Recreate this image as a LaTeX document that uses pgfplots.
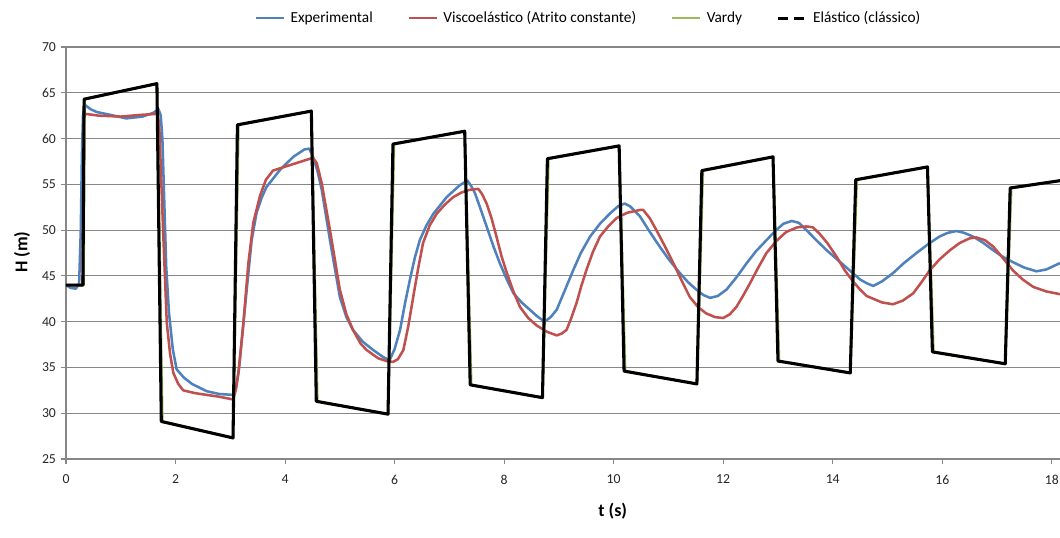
\documentclass[border=0pt]{standalone}
\usepackage{pgfplots}
\pgfplotsset{compat=1.18}
\usepackage{fontspec}
\setmainfont{Carlito}
\definecolor{cblue}{HTML}{4F81BD}
\definecolor{cred}{HTML}{C0504D}
\definecolor{cgreen}{HTML}{9BBB59}
\definecolor{cgrid}{HTML}{878787}
\begin{document}
\begin{tikzpicture}
\useasboundingbox (0pt,0pt) rectangle (795pt,403.5pt);
\begin{axis}[
  at={(49.5pt,59.25pt)}, anchor=south west,
  width=745.5pt, height=309pt, scale only axis,
  xmin=0, xmax=18.15, ymin=25, ymax=70,
  xtick={0,2,...,18}, ytick={25,30,...,70},
  axis lines=left, axis line style={-, cgrid, line width=0.8pt},
  ymajorgrids, grid style={cgrid, line width=0.8pt},
  tick align=outside, major tick length=4pt,
  tick style={cgrid, line width=0.8pt},
  /pgf/number format/assume math mode=true,
  ticklabel style={font=\fontsize{10.3}{12}\selectfont, text=black!85},
  xticklabel style={yshift=-4.5pt},
  xlabel={\textbf{t (s)}}, ylabel={\textbf{H (m)}},
  label style={font=\fontsize{13.5}{15}\selectfont},
  xlabel style={at={(axis description cs:0.550,-0.126)}, anchor=center},
  ylabel style={at={(axis description cs:-0.0443,0.502)}, anchor=center},
  legend columns=4,
  legend style={at={(axis description cs:0.526,1.07)}, anchor=center, draw=none, fill=none,
    font=\fontsize{11.5}{13}\selectfont, /tikz/every even column/.append style={column sep=24pt},
    /tikz/every odd column/.append style={column sep=2pt}},
  legend image code/.code={\draw[#1] (0pt,0pt) -- (21pt,0pt);},
  line join=round,
]
\addplot[cblue, line width=1.9pt] coordinates {
(0,44.0)(0.08,43.7)(0.18,43.6)(0.24,44.2)(0.27,50)(0.29,58)(0.31,62.5)(0.34,63.7)(0.45,63.2)(0.56,62.9)(0.8,62.6)(1.1,62.2)(1.4,62.4)(1.59,62.8)(1.69,63.2)(1.73,62.5)(1.76,60)(1.79,54)(1.83,46)(1.88,41)(1.95,37)(2.02,34.8)(2.15,33.9)(2.3,33.2)(2.57,32.4)(2.8,32.1)(3.05,32.0)(3.1,32.6)(3.16,35)(3.21,38)(3.30,43.5)(3.39,48.9)(3.48,51.9)(3.57,53.5)(3.66,54.7)(3.91,56.6)(4.15,58.0)(4.35,58.8)(4.44,58.9)(4.51,58.0)(4.59,56.5)(4.67,54.4)(4.82,48.9)(5.0,42.7)(5.12,40.5)(5.24,39.1)(5.42,37.8)(5.61,36.9)(5.80,36.1)(5.91,35.8)(6.0,37)(6.10,39.1)(6.19,42)(6.28,44.6)(6.37,47)(6.46,48.9)(6.58,50.5)(6.71,51.8)(6.95,53.6)(7.19,54.9)(7.33,55.4)(7.40,54.8)(7.47,54.0)(7.57,52.3)(7.68,50.4)(7.80,48.3)(7.92,46.4)(8.05,44.6)(8.17,43.1)(8.32,42.1)(8.47,41.3)(8.6,40.6)(8.74,40.0)(8.85,40.5)(8.96,41.3)(9.1,43.3)(9.26,45.6)(9.4,47.5)(9.57,49.3)(9.75,50.7)(9.93,51.8)(10.08,52.6)(10.2,52.9)(10.3,52.6)(10.48,51.5)(10.65,49.9)(10.84,48.2)(11.02,46.7)(11.21,45.3)(11.36,44.3)(11.51,43.5)(11.64,42.9)(11.76,42.6)(11.9,42.8)(12.06,43.5)(12.25,44.9)(12.43,46.4)(12.6,47.7)(12.79,48.9)(12.95,49.9)(13.1,50.7)(13.25,51.0)(13.38,50.8)(13.52,50.0)(13.7,48.9)(13.89,47.8)(14.1,46.7)(14.31,45.6)(14.5,44.6)(14.62,44.2)(14.74,43.9)(14.9,44.4)(15.10,45.3)(15.3,46.4)(15.53,47.5)(15.75,48.5)(15.95,49.3)(16.1,49.7)(16.26,49.9)(16.4,49.7)(16.56,49.3)(16.75,48.6)(16.93,47.8)(17.1,47.1)(17.29,46.5)(17.5,45.9)(17.72,45.5)(17.9,45.7)(18.15,46.4)
};
\addlegendentry{Experimental}
\addplot[cred, line width=1.9pt] coordinates {
(0,44.0)(0.30,44.0)(0.31,50)(0.32,58)(0.33,62.2)(0.35,62.7)(0.6,62.5)(1.0,62.4)(1.4,62.6)(1.68,62.7)(1.71,60.5)(1.73,56.9)(1.78,48.9)(1.84,39.9)(1.90,36.5)(1.96,34.4)(2.05,33.2)(2.14,32.5)(2.35,32.2)(2.57,32.0)(2.8,31.8)(3.05,31.5)(3.10,32.5)(3.15,34.4)(3.24,39.9)(3.33,46.4)(3.42,50.8)(3.54,53.7)(3.65,55.5)(3.78,56.5)(4.09,57.1)(4.3,57.5)(4.51,57.9)(4.58,57.3)(4.67,55.1)(4.82,50.0)(5.0,43.5)(5.12,40.8)(5.24,39.1)(5.38,37.6)(5.49,36.9)(5.7,36.0)(5.85,35.7)(5.97,35.6)(6.06,35.9)(6.16,36.9)(6.25,39.5)(6.34,42.7)(6.43,45.8)(6.52,48.6)(6.64,50.5)(6.77,51.8)(6.92,52.8)(7.07,53.6)(7.22,54.1)(7.37,54.4)(7.53,54.5)(7.60,53.9)(7.68,52.9)(7.77,51.3)(7.86,49.3)(7.95,47.2)(8.05,45.3)(8.17,43.3)(8.29,41.6)(8.44,40.4)(8.59,39.6)(8.78,38.9)(8.96,38.5)(9.05,38.7)(9.14,39.1)(9.22,40.3)(9.32,42.0)(9.41,43.9)(9.50,45.6)(9.62,47.6)(9.75,49.3)(9.9,50.4)(10.05,51.3)(10.25,51.9)(10.48,52.2)(10.54,52.2)(10.66,51.3)(10.78,50.0)(10.93,48.3)(11.09,46.4)(11.24,44.5)(11.39,42.7)(11.54,41.6)(11.69,40.9)(11.85,40.5)(12.0,40.4)(12.12,40.8)(12.24,41.6)(12.36,42.8)(12.49,44.2)(12.64,45.9)(12.79,47.5)(12.97,48.8)(13.15,49.8)(13.35,50.3)(13.52,50.4)(13.64,50.3)(13.76,49.6)(13.9,48.6)(14.07,47.1)(14.22,45.6)(14.37,44.4)(14.5,43.5)(14.62,42.8)(14.74,42.5)(14.9,42.1)(15.10,41.9)(15.28,42.3)(15.47,43.1)(15.62,44.3)(15.77,45.6)(15.95,46.8)(16.14,47.8)(16.32,48.6)(16.50,49.1)(16.62,49.2)(16.78,48.9)(16.93,48.2)(17.1,47.0)(17.29,45.6)(17.47,44.6)(17.66,43.8)(17.9,43.3)(18.15,43.0)
};
\addlegendentry{Viscoelástico (Atrito constante)}
\addplot[cgreen, line width=1.9pt] coordinates {
(0,44.0)(0.32,44.0)(0.34,64.3)(1.66,66.0)(1.76,29.1)(3.05,27.3)(3.15,61.5)(4.48,63.0)(4.59,31.3)(5.88,29.9)(5.99,59.4)(7.28,60.8)(7.40,33.1)(8.70,31.7)(8.81,57.8)(10.10,59.2)(10.21,34.6)(11.52,33.2)(11.63,56.5)(12.91,58.0)(13.02,35.7)(14.32,34.4)(14.44,55.5)(15.73,56.9)(15.84,36.7)(17.15,35.4)(17.26,54.6)(18.15,55.4)
};
\addlegendentry{Vardy}
\addplot[black, line width=2.3pt, legend image code/.code={\draw[black, line width=2.3pt, dash pattern=on 7pt off 5pt] (0pt,0pt) -- (21pt,0pt);}] coordinates {
(0,44.0)(0.31,44.0)(0.33,64.3)(1.66,66.0)(1.74,29.1)(3.05,27.3)(3.13,61.5)(4.48,63.0)(4.57,31.3)(5.88,29.9)(5.97,59.4)(7.28,60.8)(7.38,33.1)(8.70,31.7)(8.79,57.8)(10.10,59.2)(10.19,34.6)(11.52,33.2)(11.61,56.5)(12.91,58.0)(13.00,35.7)(14.32,34.4)(14.42,55.5)(15.73,56.9)(15.82,36.7)(17.15,35.4)(17.24,54.6)(18.15,55.4)
};
\addlegendentry{Elástico (clássico)}
\end{axis}
\end{tikzpicture}
\end{document}
